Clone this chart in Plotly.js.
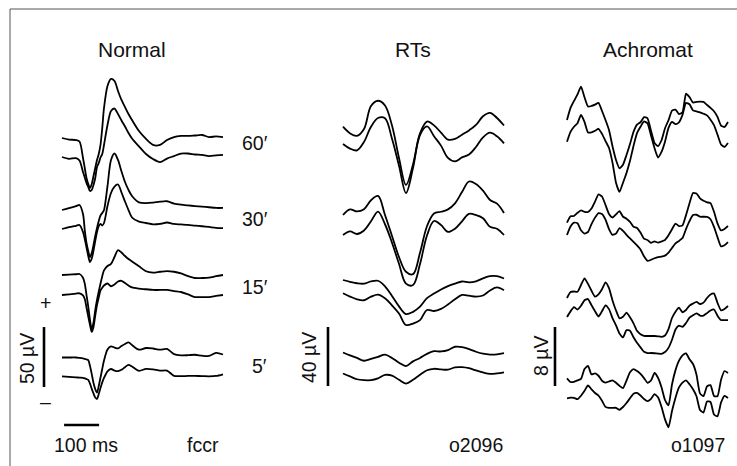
<!DOCTYPE html>
<html>
<head>
<meta charset="utf-8">
<script src="https://cdn.plot.ly/plotly-3.0.1.min.js"></script>
<style>html,body{margin:0;padding:0;background:#fff;}#chart{width:737px;height:466px;}</style>
</head>
<body>
<div id="chart"></div>
<script>
// ---------- DATA (time in ms, amplitude in µV relative to each trace's start) ----------
const panelTitles = ["Normal", "RTs", "Achromat"];
const delayLabels = ["60′", "30′", "15′", "5′"];
const subjectLabels = ["fccr", "o2096", "o1097"];
const scaleLabels = ["50 µV", "40 µV", "8 µV"];
const timeBarLabel = "100 ms";

// Normal
const tNormal = [0,20,40,50,60,65,70,75,80,85,90,95,100,105,110,115,120,130,140,150,160,170,180,190,200,220,240,260,280,300,320,340,360,380,400,420,440,460];
const normal60a = [0,-1.3,-1.7,-2.9,-16.7,-25,-33.3,-38.3,-41.7,-38.3,-31.7,-25,-18.3,-13.3,-5.8,8.3,25,43.3,49.2,47.5,39.2,31.7,25.8,20,15,5.8,-0.8,-5.8,-5.8,-1.7,0.8,1.7,1.7,2.1,2.5,0.8,1.3,0.8];
const normal60b = [0,-1.5,-1,-2.9,-12.5,-17.1,-21.7,-25,-28.3,-27.5,-23.3,-17.5,-8.3,-5,-0.4,2.5,10,26.7,38.3,40.4,35.8,30.4,25.4,20,15.4,8.8,2.5,-1.7,-4.2,-1.3,0.8,2.9,2.9,2.1,1.7,0.8,1.3,1.7];
const normal30a = [0,1.5,3.2,4.2,-3.3,-16.7,-27.5,-34.2,-39.2,-35.8,-29.2,-21.7,-15,-9.2,-4.6,-2.5,0,20,41.7,47.1,41.7,32.1,23.3,16.7,11.7,6.4,5.8,6.2,6.9,7.3,5.4,4.4,3.8,3.3,2.8,2.3,1.7,1.7];
const normal30b = [0,1.5,2.7,3.3,-2.5,-8.3,-15.4,-22.5,-27.5,-24.6,-17.9,-10,-2.5,2.5,4.2,2.9,5,19.2,30,35.4,37.1,30.4,22.9,15.8,9.6,6.1,5,3.9,4.3,5.4,4.2,3.8,3.4,2.8,2.3,1.7,1,0.8];
const normal15a = [0,0.3,0.6,0.8,-2.3,-7.1,-16.7,-26.3,-37.5,-45,-39.6,-29.2,-20.8,-13.8,-7.1,-1,3.9,7.5,9.2,15,20.8,18.7,15.8,13.3,11.3,7.2,3.1,2,2.7,3.3,2.7,1.3,-0.9,-2.5,-2.5,-2.2,-1,0];
const normal15b = [0,0.6,1.2,1.4,-0.3,-3.3,-10.4,-17.9,-25,-30.8,-26.7,-17.1,-8.3,-2,3.8,6,7.9,9.6,7.3,8.8,11.3,11.8,10,7.9,6.3,5.3,4.8,4.2,4.2,4.2,3.3,2.5,0.5,-1.7,-1.7,-1.7,-0.8,0];
const normal5a = [0,0,0,-0.3,-0.7,-1.1,-1.6,-2.1,-7.1,-13.8,-21.3,-26.3,-29.2,-23.8,-16.7,-9.6,-2.5,6.7,9.3,8.3,7.6,9.6,11.3,12.6,10.4,6.5,7.9,7.5,6.5,7.1,2.8,1.8,1.9,2.3,1.5,1.3,3.8,2.5];
const normal5b = [0,-0.4,-0.9,-1.1,-1.3,-1.7,-2.3,-3,-6.1,-10.5,-14.3,-17.7,-18.9,-14.8,-9.8,-5.1,-1.4,4.1,6.1,4.8,4.3,5.4,7.6,9.6,8.2,4.6,6.2,5.8,4.7,4.7,0.4,0.1,0.3,0.3,0.2,0,0.3,1.7];

// RTs
const tRTs = [0,20,40,60,80,100,120,140,160,180,200,220,240,260,280,300,320,340,360,380,400,420,440,460];
const rts60a = [0,-4.5,-6.2,-1.6,14,17.6,14.4,0.8,-21.2,-39.5,-25.6,-4.5,3.5,0.9,-4,-8.8,-8.3,-5.4,-2.5,1.2,7.1,9.4,5.9,0.8];
const rts60b = [0,-3.1,-4.3,1.4,11.7,17.6,17.4,3.5,-14.7,-33.2,-16.3,6.1,11.9,5.3,-1.1,-9.4,-11.8,-9.1,-7.1,-2,4.5,7.7,5.2,0.4];
const rts30a = [0,3.8,2.4,3.9,10,12.9,0,-14.2,-28.5,-38.5,-40.1,-25.6,-7.6,1,2.2,3.8,7.9,15.6,22.7,21,16.5,10.2,7.7,1.4];
const rts30b = [0,2.4,0.7,3.1,9.3,15.9,7.3,-5.2,-19.5,-33,-33.9,-19.7,-0.3,9.5,6.8,2.1,4.3,9.3,14.4,13.5,11.4,5.6,4.3,0];
const rts15a = [0,-1.2,-2.2,-2.5,-0.9,-0.5,-4.3,-10.8,-17.9,-23.1,-21.6,-18,-12.3,-9.2,-6.4,-4.1,-2.4,-1,-1.6,-0.9,1.1,2.6,2.6,1];
const rts15b = [0,-2.2,-4.1,-4.7,-2.3,-0.9,-3.4,-8.2,-13.7,-21.5,-20.5,-18.2,-11.3,-12,-10.6,-7.6,-4,-1.1,-1.6,-2.2,-1.5,1.9,4,2];
const rts5a = [0,-1.9,-3.7,-5.6,-4.4,-3,-1.4,-3.7,-6.9,-9.2,-6,-3.7,-0.9,0.9,0.7,1.6,3.9,3.7,2.3,0.5,-0.8,-1.4,-1.3,-0.5];
const rts5b = [0,-2,-3.9,-4.5,-4.5,-3.3,-1,-1.4,-4.3,-6.8,-4.3,-0.8,2.2,3.2,2.8,2.6,4.2,4.3,3.6,2.1,0.7,-0.3,0.1,0.8];

// Achromat
const tAch = [0,10,20,30,40,50,60,70,80,90,100,110,120,130,140,150,160,170,180,190,200,210,220,230,240,250,260,270,280,290,300,310,320,330,340,350,360,370,380,390,400,410,420,430,440,450,460];
const ach60a = [0,1.64,2.58,3.47,4.53,3.09,1.83,1.9,2.08,2.31,1.22,-0.01,-1.36,-3.57,-5.42,-6.55,-6.06,-4.75,-3.27,-1.61,-0.62,-0.31,0.38,0.23,-1.45,-3.1,-3.54,-2.75,-1.12,-0.03,1.27,1.41,0.81,1.03,3.57,3.1,2.37,2.45,2.48,2.45,2.03,1.64,1.19,0.42,-0.75,-0.95,-0.27];
const ach60b = [0,1.33,2.03,2.52,3.63,2.7,1.26,1.27,1.49,1.76,1.07,0.09,-0.85,-2.83,-5.56,-6.81,-5.56,-4.24,-2.59,-0.57,1.18,2.03,2.75,2.49,0.84,-0.85,-2.14,-1.38,0.01,1.88,2.7,2.4,2.64,3.64,5.27,5.08,4.25,4.13,3.97,3.79,3.57,2.98,2.24,0.96,-0.37,-0.71,-0.18];
const ach30a = [0,0.89,0.91,1.34,1.66,1.47,1.45,1.92,2.86,3.85,3.55,2.4,1.18,0.71,1.14,1.57,0.81,0.55,0.12,-0.56,-0.71,-1.34,-2.15,-2.35,-2.72,-2.52,-2.7,-2.55,-2.35,-1.71,-0.89,-0.12,-0.45,-0.37,1.03,2.64,4.03,3.95,3.31,2.98,2.77,2.66,1.48,-0.08,-1.04,-0.84,-0.45];
const ach30b = [0,1.15,1.68,1.59,0.64,0.2,0.41,1.48,2.36,2.98,2.86,2.09,0.81,0.03,0.19,0.93,0.56,0.03,-0.45,-0.92,-1.4,-1.95,-2.89,-3.51,-3.36,-3.15,-3,-2.94,-2.79,-2.39,-1.75,-1.13,-0.8,-0.41,0.81,1.88,2.7,2.75,2.48,2.48,2.45,2.14,1.1,-0.28,-1.54,-1.38,-0.95];
const ach15a = [0,0.81,0.88,0.84,1.76,2.67,1.91,0.98,0.18,0.5,1.18,2.12,1.34,-0.34,-1.69,-2.74,-2.55,-1.99,-2.62,-3.43,-4.45,-4.92,-5.12,-5.15,-5.15,-5.15,-5.2,-5.26,-5.08,-4.23,-2.71,-1.85,-1.31,-1.93,-1.63,-1.03,-0.75,-0.52,-0.81,-0.63,0,0.47,0.6,-0.66,-1.67,-1.48,-1.08];
const ach15b = [0,0.77,1.33,1.02,1.53,2.28,2.44,1.61,0.79,0.08,0.79,1.59,1.07,-0.14,-1.14,-2.24,-2.75,-1.78,-1.86,-2.74,-3.49,-4.12,-4.72,-4.88,-4.88,-4.91,-4.95,-5,-4.75,-4.18,-3.08,-1.68,-1.18,-1.33,-0.81,-0.09,0.23,0.49,0.2,0.2,0.53,0.89,1.02,0.19,-0.41,-0.41,-0.41];
const ach5a = [0,-0.5,-0.47,-0.28,-0.08,1.28,1.69,0.52,0.68,0.35,-0.33,-0.58,-0.43,-0.27,-0.6,-1.02,-1.33,-0.3,0.81,1.24,0.99,0.6,0.03,-0.61,-0.3,0.72,0.08,-1.21,-2.94,-3.68,-0.84,1.11,2.4,3.12,3.37,2.58,1.94,0.49,-2.04,-2.42,-1.09,-0.92,-2.39,-2.43,-0.23,0.99,0.72];
const ach5b = [0,0.08,0.05,-0.12,0.35,1.02,1.74,1.22,0.72,0.37,-0.33,-1.16,-1.31,-1.29,-1.29,-1.55,-1.18,-0.64,0,0.62,0.72,0.38,-0.09,-0.39,-0.07,0.57,0.14,-1.15,-2.86,-3.93,-1.73,0.08,1.48,2.12,2.44,1.91,1.22,0.27,-1.59,-1.93,-0.43,-0.5,-2.2,-2.43,-0.59,0.34,0.04];

// ---------- LAYOUT CONSTANTS (vertical stacking of traces, in each panel's µV units) ----------
const panels = [
  {t: tNormal, series: [normal60a, normal60b, normal30a, normal30b, normal15a, normal15b, normal5a, normal5b],
   offsets: [273.33, 257.5, 213.33, 197.5, 159.17, 142.5, 90.42, 74.75], shape: "spline", smooth: 0.8},
  {t: tRTs, series: [rts60a, rts60b, rts30a, rts30b, rts15a, rts15b, rts5a, rts5b],
   offsets: [230.03, 218.3, 170.17, 156.6, 126.1, 117.08, 76.95, 62.71], shape: "spline", smooth: 1.0},
  {t: tAch, series: [ach60a, ach60b, ach30a, ach30b, ach15a, ach15b, ach5a, ach5b],
   offsets: [46.92, 43.97, 32.99, 31.32, 22.78, 20.2, 11.89, 9.18], shape: "spline", smooth: 0.5}
];

const W = 737, H = 466;
const data = [];
panels.forEach((p, pi) => {
  const xa = pi === 0 ? "x" : "x" + (pi + 1);
  const ya = pi === 0 ? "y" : "y" + (pi + 1);
  p.series.forEach((s, si) => {
    data.push({
      x: p.t, y: s.map(v => v + p.offsets[si]),
      xaxis: xa, yaxis: ya, type: "scatter", mode: "lines",
      line: {color: "#000", width: 1.8, shape: p.shape, smoothing: p.smooth},
      hoverinfo: "skip"
    });
  });
});

const hidden = {visible: false, showgrid: false, zeroline: false, fixedrange: true};
const px = v => v / W, py = v => 1 - v / H;
const fontFam = "Liberation Sans, Arial, sans-serif";
const font = {family: fontFam, size: 19.5, color: "#111"};
const titleFont = {family: fontFam, size: 21, color: "#111"};
const ann = (text, x, y, extra) => Object.assign({text, x: px(x), y: py(y), xref: "paper", yref: "paper",
  showarrow: false, xanchor: "center", yanchor: "middle", font}, extra || {});

const annotations = [
  ann(panelTitles[0], 132, 50, {font: titleFont}), ann(panelTitles[1], 413, 50, {font: titleFont}),
  ann(panelTitles[2], 648, 50, {font: titleFont}),
  ann(delayLabels[0], 255, 143), ann(delayLabels[1], 255, 219),
  ann(delayLabels[2], 255, 287), ann(delayLabels[3], 259, 366),
  ann("+", 45, 303), ann("–", 45, 402),
  ann(scaleLabels[0], 27, 359, {textangle: -90}), ann(scaleLabels[1], 309, 358, {textangle: -90}),
  ann(scaleLabels[2], 541, 356, {textangle: -90}),
  ann(timeBarLabel, 86, 445), ann(subjectLabels[0], 203, 445),
  ann(subjectLabels[1], 476, 445), ann(subjectLabels[2], 698, 445)
];

const bar = (xref, yref, x0, y0, x1, y1) => ({type: "line", xref, yref, x0, y0, x1, y1,
  line: {color: "#000", width: 2.6}});

const shapes = [
  {type: "rect", xref: "paper", yref: "paper", x0: px(10), y0: -0.05, x1: 1.05, y1: py(9),
   line: {color: "#555", width: 1}, fillcolor: "rgba(0,0,0,0)"},
  bar("x", "y", -51.4, 65.8, -51.4, 115.8),      // 50 µV
  bar("x", "y", 6, 34.2, 106, 34.2),              // 100 ms
  bar("x2", "y2", -42.9, 54.24, -42.9, 94.24),    // 40 µV
  bar("x3", "y3", -34.3, 10.85, -34.3, 18.85)     // 8 µV
];

const layout = {
  width: W, height: H, margin: {l: 0, r: 0, t: 0, b: 0, pad: 0},
  paper_bgcolor: "#fff", plot_bgcolor: "rgba(0,0,0,0)", showlegend: false,
  xaxis: Object.assign({domain: [px(20), px(240)], range: [-120, 508.57], anchor: "y"}, hidden),
  yaxis: Object.assign({domain: [0, 1], range: [0, 388.33], anchor: "x"}, hidden),
  xaxis2: Object.assign({domain: [px(300), px(520)], range: [-122.86, 505.71], anchor: "y2"}, hidden),
  yaxis2: Object.assign({domain: [0, 1], range: [0, 315.93], anchor: "x2"}, hidden),
  xaxis3: Object.assign({domain: [px(540), 1], range: [-77.14, 485.71], anchor: "y3"}, hidden),
  yaxis3: Object.assign({domain: [0, 1], range: [0, 63.19], anchor: "x3"}, hidden),
  annotations, shapes
};

Plotly.newPlot("chart", data, layout, {displayModeBar: false, staticPlot: true});
</script>
</body>
</html>
